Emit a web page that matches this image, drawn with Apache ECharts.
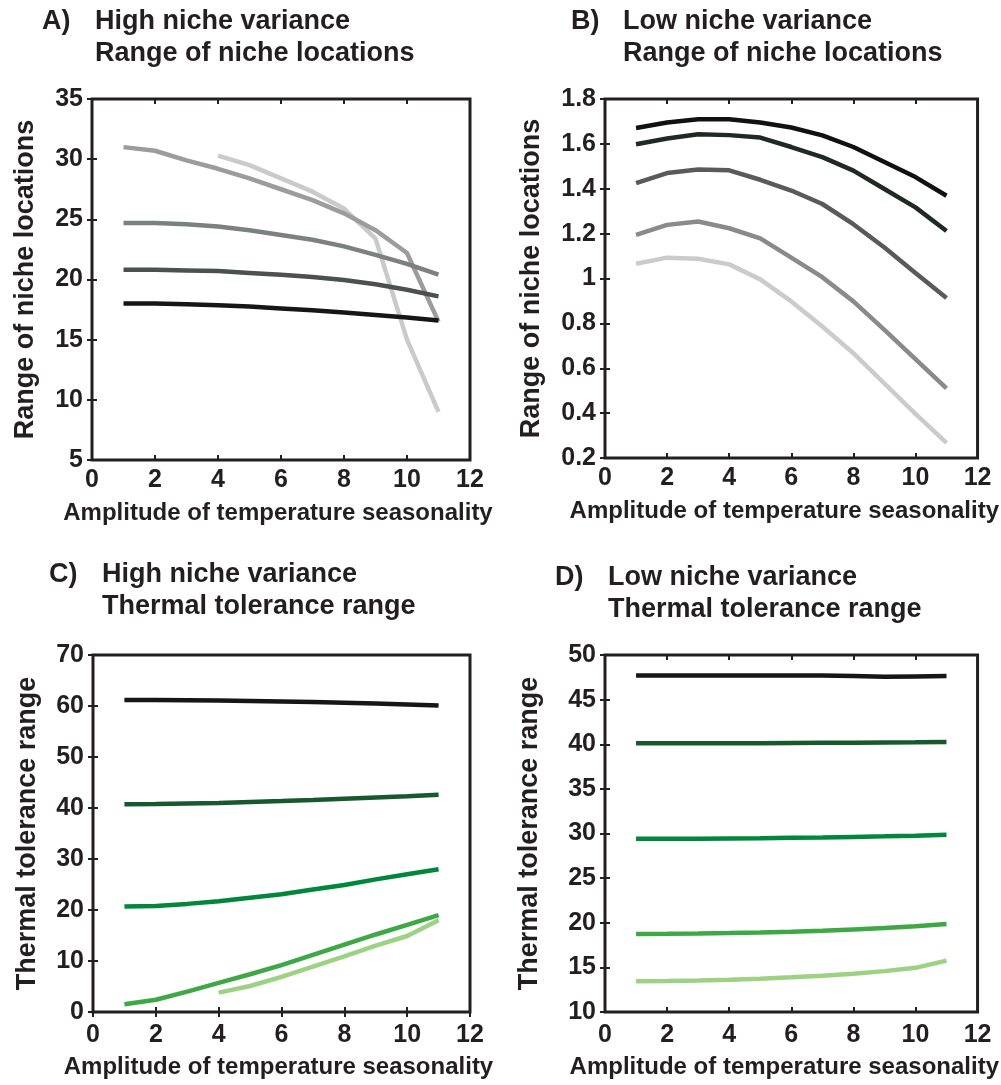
<!DOCTYPE html>
<html>
<head>
<meta charset="utf-8">
<title>Niche range and thermal tolerance</title>
<script src="https://cdn.jsdelivr.net/npm/echarts@6/dist/echarts.min.js"></script>
<style>
  html, body { margin: 0; padding: 0; background: #fff; }
  #chart { width: 1001px; height: 1085px; }
</style>
</head>
<body>
<div id="chart"></div>
<script>
// amplitude of temperature seasonality (x values shared by all panels)
var amplitude = [1, 2, 3, 4, 5, 6, 7, 8, 9, 10, 11];

// A) high niche variance, range of niche locations
var rangeHigh1 = [18.0, 18.0, 17.95, 17.85, 17.75, 17.6, 17.45, 17.25, 17.05, 16.85, 16.6];
var rangeHigh2 = [20.8, 20.8, 20.75, 20.7, 20.55, 20.4, 20.2, 19.95, 19.6, 19.15, 18.6];
var rangeHigh3 = [24.7, 24.7, 24.6, 24.4, 24.1, 23.7, 23.3, 22.75, 22.05, 21.3, 20.4];
var rangeHigh4 = [31.0, 30.7, 29.9, 29.2, 28.4, 27.5, 26.6, 25.5, 24.1, 22.2, 16.5];
var rangeHigh5 = [null, null, null, 30.3, 29.5, 28.4, 27.3, 25.9, 23.4, 15.0, 9.0];

// B) low niche variance, range of niche locations
var rangeLow1 = [1.671, 1.695, 1.71, 1.71, 1.695, 1.673, 1.638, 1.586, 1.519, 1.452, 1.369];
var rangeLow2 = [1.598, 1.624, 1.643, 1.639, 1.628, 1.586, 1.541, 1.481, 1.399, 1.317, 1.212];
var rangeLow3 = [1.425, 1.47, 1.486, 1.482, 1.44, 1.392, 1.332, 1.242, 1.138, 1.025, 0.913];
var rangeLow4 = [1.194, 1.239, 1.254, 1.224, 1.179, 1.093, 1.006, 0.898, 0.771, 0.641, 0.51];
var rangeLow5 = [1.066, 1.093, 1.088, 1.063, 0.996, 0.898, 0.786, 0.667, 0.532, 0.397, 0.267];

// C) high niche variance, thermal tolerance range
var tolHigh1 = [61.2, 61.2, 61.15, 61.1, 61.0, 60.9, 60.8, 60.65, 60.5, 60.3, 60.1];
var tolHigh2 = [40.75, 40.8, 40.9, 41.0, 41.2, 41.35, 41.55, 41.8, 42.05, 42.3, 42.6];
var tolHigh3 = [20.7, 20.8, 21.2, 21.7, 22.4, 23.1, 24.0, 24.9, 26.0, 27.0, 28.0];
var tolHigh4 = [1.5, 2.4, 4.0, 5.7, 7.4, 9.2, 11.2, 13.2, 15.2, 17.1, 19.0];
var tolHigh5 = [null, null, null, 3.8, 5.1, 6.9, 8.9, 10.9, 13.0, 14.9, 18.0];

// D) low niche variance, thermal tolerance range
var tolLow1 = [47.7, 47.7, 47.7, 47.7, 47.7, 47.7, 47.7, 47.65, 47.55, 47.6, 47.65];
var tolLow2 = [40.1, 40.1, 40.1, 40.1, 40.12, 40.14, 40.16, 40.18, 40.2, 40.22, 40.25];
var tolLow3 = [29.4, 29.4, 29.42, 29.45, 29.48, 29.52, 29.56, 29.62, 29.68, 29.76, 29.85];
var tolLow4 = [18.75, 18.77, 18.8, 18.85, 18.92, 19.0, 19.1, 19.25, 19.4, 19.6, 19.85];
var tolLow5 = [13.45, 13.47, 13.52, 13.6, 13.72, 13.88, 14.05, 14.28, 14.58, 14.95, 15.75];

var graysA = ['#161616', '#4b5050', '#7b8181', '#9c9c9c', '#cacaca'];
var graysB = ['#111111', '#1f2a24', '#5a5a5a', '#8a8a8a', '#cbcbcb'];
var greens = ['#161616', '#17582e', '#00873c', '#3ea846', '#9dd284'];

var ink = '#231f20';
var font = 'Liberation Sans, Arial, Helvetica, sans-serif';

function pairs(ys) {
  var out = [];
  for (var i = 0; i < amplitude.length; i++) {
    if (ys[i] != null) out.push([amplitude[i], ys[i]]);
  }
  return out;
}

var myChart = echarts.init(document.getElementById('chart'));

var grids = [
  { left: 92, top: 99, width: 378, height: 361 },
  { left: 605, top: 99, width: 376, height: 359 },
  { left: 93, top: 655, width: 377, height: 357 },
  { left: 605, top: 655, width: 374, height: 357 }
];

var yRanges = [
  { min: 5, max: 35, interval: 5, name: 'Range of niche locations', gap: 53 },
  { min: 0.2, max: 1.8, interval: 0.2, name: 'Range of niche locations', gap: 60 },
  { min: 0, max: 70, interval: 10, name: 'Thermal tolerance range', gap: 52 },
  { min: 10, max: 50, interval: 5, name: 'Thermal tolerance range', gap: 62 }
];

var tick = { show: true, inside: true, length: 5, lineStyle: { color: ink, width: 2 } };

var xAxes = [], yAxes = [];
grids.forEach(function (g, i) {
  var lower = i >= 2;
  var right = i % 2 === 1;
  xAxes.push({
    type: 'value', gridIndex: i, min: 0, max: 12, interval: 2,
    name: 'Amplitude of temperature seasonality',
    nameLocation: 'middle', nameGap: lower ? 43 : 41,
    nameTextStyle: {
      fontFamily: font, fontWeight: 'bold', fontSize: 24, color: ink,
      padding: right ? [0, 14, 0, 0] : [0, 6, 0, 0]
    },
    axisLine: { show: false }, axisTick: tick, splitLine: { show: false },
    axisLabel: { margin: lower ? 11 : 8, fontFamily: font, fontWeight: 'bold', fontSize: 25, color: ink }
  });
  // mirror ticks on top edge
  xAxes.push({
    type: 'value', gridIndex: i, position: 'top', min: 0, max: 12, interval: 2,
    axisLine: { show: false }, axisTick: tick, splitLine: { show: false },
    axisLabel: { show: false }
  });
  var r = yRanges[i];
  yAxes.push({
    type: 'value', gridIndex: i, min: r.min, max: r.max, interval: r.interval,
    name: r.name, nameLocation: 'middle', nameRotate: 90, nameGap: r.gap,
    nameTextStyle: { fontFamily: font, fontWeight: 'bold', fontSize: 27, color: ink },
    axisLine: { show: false }, axisTick: tick, splitLine: { show: false },
    axisLabel: { margin: 9, fontFamily: font, fontWeight: 'bold', fontSize: 25, color: ink }
  });
  // mirror ticks on right edge
  yAxes.push({
    type: 'value', gridIndex: i, position: 'right', min: r.min, max: r.max, interval: r.interval,
    axisLine: { show: false }, axisTick: tick, splitLine: { show: false },
    axisLabel: { show: false }
  });
});

var panelSeries = [
  [rangeHigh1, rangeHigh2, rangeHigh3, rangeHigh4, rangeHigh5],
  [rangeLow1, rangeLow2, rangeLow3, rangeLow4, rangeLow5],
  [tolHigh1, tolHigh2, tolHigh3, tolHigh4, tolHigh5],
  [tolLow1, tolLow2, tolLow3, tolLow4, tolLow5]
];
var panelColors = [graysA, graysB, greens, greens];

var series = [];
panelSeries.forEach(function (list, p) {
  var colors = panelColors[p];
  for (var k = list.length - 1; k >= 0; k--) {
    series.push({
      type: 'line',
      xAxisIndex: p * 2,
      yAxisIndex: p * 2,
      data: pairs(list[k]),
      symbol: 'none',
      silent: true,
      lineStyle: { color: colors[k], width: 4.5 },
      z: 3
    });
  }
});

var titleStyle = { fontFamily: font, fontWeight: 'bold', fontSize: 27, color: ink, lineHeight: 32 };
var titles = [
  { text: 'A)', left: 42, top: 6 },
  { text: 'High niche variance\nRange of niche locations', left: 95, top: 6 },
  { text: 'B)', left: 571, top: 6 },
  { text: 'Low niche variance\nRange of niche locations', left: 623, top: 6 },
  { text: 'C)', left: 49, top: 559 },
  { text: 'High niche variance\nThermal tolerance range', left: 102, top: 559 },
  { text: 'D)', left: 555, top: 562 },
  { text: 'Low niche variance\nThermal tolerance range', left: 608, top: 562 }
].map(function (t) {
  t.padding = 0;
  t.textStyle = titleStyle;
  return t;
});

var option = {
  backgroundColor: '#fff',
  animation: false,
  title: titles,
  grid: grids.map(function (g) {
    return {
      left: g.left, top: g.top, width: g.width, height: g.height,
      show: true, borderColor: ink, borderWidth: 3, backgroundColor: 'transparent'
    };
  }),
  xAxis: xAxes,
  yAxis: yAxes,
  series: series
};

myChart.setOption(option);
</script>
</body>
</html>
